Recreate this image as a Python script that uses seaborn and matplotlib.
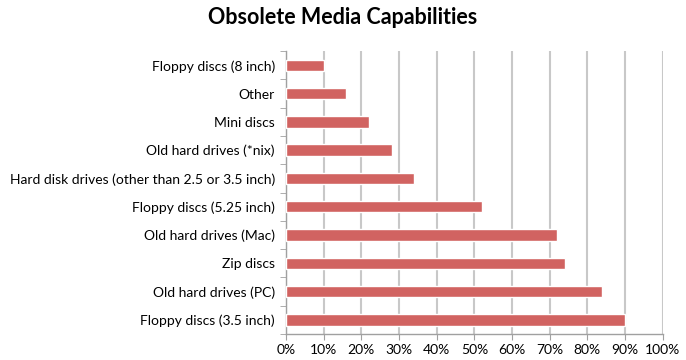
import matplotlib
matplotlib.use("Agg")
import matplotlib.pyplot as plt
import seaborn as sns
import pandas as pd
from matplotlib.ticker import PercentFormatter, MultipleLocator

# --- data (top to bottom) ---
categories = [
    "Floppy discs (8 inch)",
    "Other",
    "Mini discs",
    "Old hard drives (*nix)",
    "Hard disk drives (other than 2.5 or 3.5 inch)",
    "Floppy discs (5.25 inch)",
    "Old hard drives (Mac)",
    "Zip discs",
    "Old hard drives (PC)",
    "Floppy discs (3.5 inch)",
]
shares = [0.10, 0.16, 0.22, 0.28, 0.34, 0.52, 0.72, 0.74, 0.84, 0.90]

df = pd.DataFrame({"media": categories, "share": shares})

sns.set_style("white")
plt.rcParams["font.family"] = ["Lato", "DejaVu Sans"]
plt.rcParams["text.color"] = "black"

fig = plt.figure(figsize=(6.86, 3.6), dpi=100)
ax = fig.add_axes([0.417, 0.072, 0.549, 0.786])

sns.barplot(data=df, x="share", y="media", color="#D16361", width=0.4,
            saturation=1, ax=ax, zorder=3)

ax.set_xlim(0, 1)
ax.set_ylim(len(categories) - 0.5, -0.5)
ax.xaxis.set_major_locator(MultipleLocator(0.1))
ax.xaxis.set_major_formatter(PercentFormatter(1.0, decimals=0))
ax.grid(axis="x", color="#C8C8C8", linewidth=1.5, zorder=0)
ax.grid(axis="y", visible=False)
ax.set_xlabel("")
ax.set_ylabel("")

for side in ["top", "right"]:
    ax.spines[side].set_visible(False)
for side in ["left", "bottom"]:
    ax.spines[side].set_color("#A0A0A0")
    ax.spines[side].set_linewidth(1.0)

# category ticks sit between bars, like the spreadsheet version
ax.set_yticks([i - 0.5 for i in range(len(categories) + 1)], minor=True)
ax.tick_params(axis="y", which="minor", length=4, color="#A0A0A0", left=True)
ax.tick_params(axis="y", which="major", length=0, labelsize=10, pad=8,
               labelcolor="black")
ax.tick_params(axis="x", length=4, color="#A0A0A0", bottom=True, labelsize=10,
               pad=3, labelcolor="black")

fig.suptitle("Obsolete Media Capabilities", fontsize=15.5, fontweight="bold",
             y=0.98, color="black")

fig.savefig("out.png", dpi=100)
